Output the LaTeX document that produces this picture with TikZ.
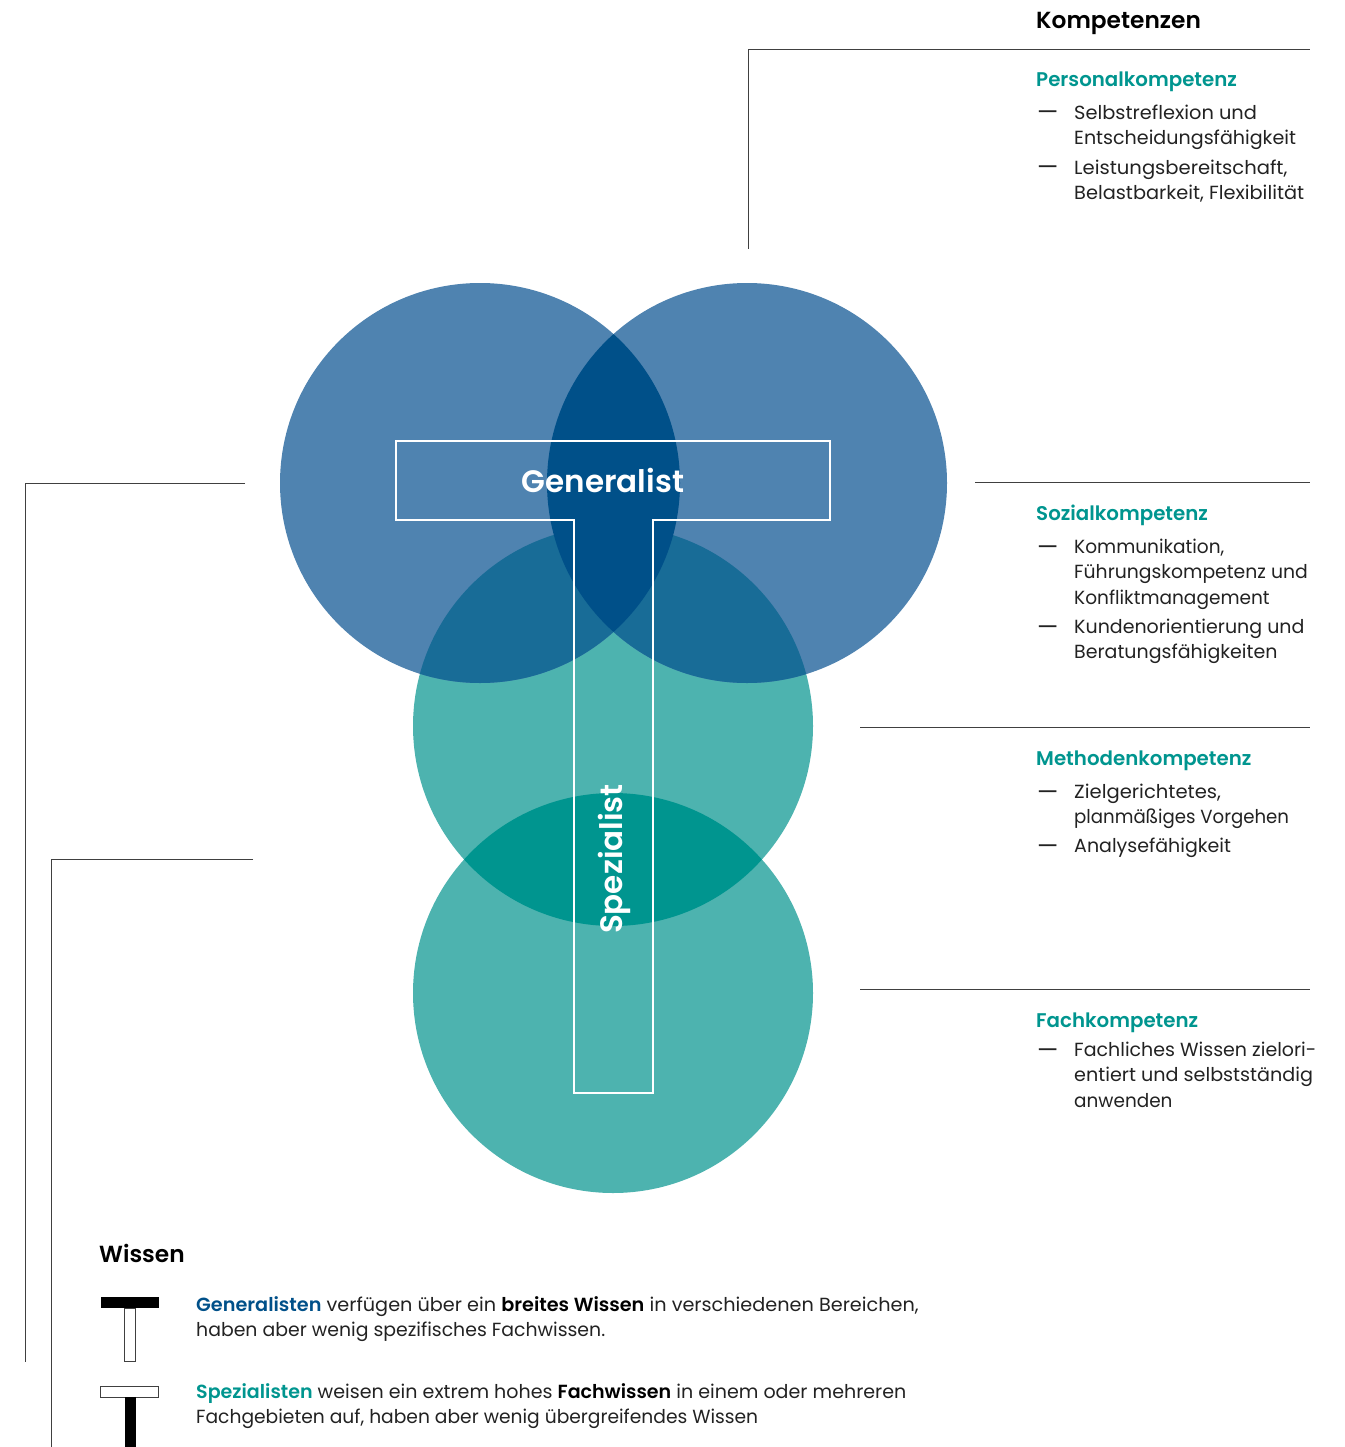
\documentclass[tikz,border=0pt]{standalone}
\usepackage{graphicx}
\usepackage{fontspec}
\setmainfont{Poppins}[BoldFont={Poppins SemiBold}]
\definecolor{blueA}{HTML}{4F83B0}
\definecolor{blueB}{HTML}{005089}
\definecolor{tealA}{HTML}{4DB3AF}
\definecolor{tealB}{HTML}{00958F}
\definecolor{mixC}{HTML}{186C97}
\definecolor{lineC}{HTML}{404040}
\definecolor{textC}{HTML}{222222}
\tikzset{
  rule/.style={draw=lineC,line width=1pt},
  head/.style={anchor=base west,inner sep=0pt,font=\fontsize{23.3}{28}\selectfont\bfseries,text=black},
  sub/.style={anchor=base west,inner sep=0pt,font=\fontsize{19.8}{25}\selectfont\bfseries,text=tealB},
  dashmark/.style={anchor=base west,inner sep=0pt,yshift=-2pt,xshift=-1pt,font=\fontsize{24}{25}\selectfont,text=textC},
  item/.style={anchor=north west,inner sep=0pt,align=left,font=\fontsize{19}{25.5}\selectfont,text=textC},
  tshape/.style={draw=white,line width=2.6pt,miter limit=10},
  tlabel/.style={inner sep=0pt,font=\fontsize{31}{36}\selectfont\bfseries,text=white},
}
\newcommand{\fl}{\rule{0pt}{20pt}}
\newcommand{\sx}[2]{\scalebox{#1}[1]{#2}}
\begin{document}
\begin{tikzpicture}[x=1pt,y=-1pt]
\useasboundingbox (0,0) rectangle (1344,1447);
\coordinate (cl) at (480,483);
\coordinate (cr) at (747,483);
\coordinate (ct) at (613,726);
\coordinate (cb) at (613,993);
% circles
\fill[tealA] (ct) circle[radius=200];
\fill[tealA] (cb) circle[radius=200];
\begin{scope}\clip (ct) circle[radius=200];\fill[tealB] (cb) circle[radius=200];\end{scope}
\fill[blueA] (cl) circle[radius=200];
\fill[blueA] (cr) circle[radius=200];
\begin{scope}\clip (ct) circle[radius=200];\fill[mixC] (cl) circle[radius=200];\fill[mixC] (cr) circle[radius=200];\end{scope}
\begin{scope}\clip (cl) circle[radius=200];\fill[blueB] (cr) circle[radius=200];\end{scope}
% T
\draw[tshape] (396,441) -- (830,441) -- (830,520) -- (653,520) -- (653,1093) -- (574,1093) -- (574,520) -- (396,520) -- cycle;
\node[tlabel,anchor=base] (gen) at (603,492) {Generalist};
\node[tlabel,anchor=base,rotate=90] (spez) at (622,859) {Spezialist};
% rules
\coordinate (a1) at (748,249); \coordinate (a2) at (748,49.5); \coordinate (a3) at (1310,49.5);
\draw[rule] (a1) -- (a2) -- (a3);
\coordinate (b1) at (975,482.5); \coordinate (b2) at (1310,482.5);
\draw[rule] (b1) -- (b2);
\coordinate (c1) at (860,727.5); \coordinate (c2) at (1310,727.5);
\draw[rule] (c1) -- (c2);
\coordinate (d1) at (860,989.5); \coordinate (d2) at (1310,989.5);
\draw[rule] (d1) -- (d2);
\coordinate (e1) at (245,483.5); \coordinate (e2) at (25,483.5); \coordinate (e3) at (25,1362);
\draw[rule] (e1) -- (e2) -- (e3);
\coordinate (f1) at (253,859.5); \coordinate (f2) at (51,859.5); \coordinate (f3) at (51,1447);
\draw[rule] (f1) -- (f2) -- (f3);
% right texts
\node[head] (kompetenzen) at (1036,29) {Kompetenzen};
\node[sub] (pk) at (1036,87) {Personalkompetenz};
\node[dashmark] (pd1) at (1038,119) {—};
\node[item] (pi1) at (1074,99) {\fl\sx{1.02}{Selbstreflexion und}\\\sx{1.005}{Entscheidungsfähigkeit}};
\node[dashmark] (pd2) at (1038,174) {—};
\node[item] (pi2) at (1074,154) {\fl\sx{1.03}{Leistungsbereitschaft,}\\\sx{1.018}{Belastbarkeit, Flexibilität}};
\node[sub] (sk) at (1036,520) {Sozialkompetenz};
\node[dashmark] (sd1) at (1038,553) {—};
\node[item] (si1) at (1074,533) {\fl\sx{.975}{Kommunikation,}\\\sx{.99}{Führungskompetenz und}\\\sx{.975}{Konfliktmanagement}};
\node[dashmark] (sd2) at (1038,633) {—};
\node[item] (si2) at (1074,613) {\fl Kundenorientierung und\\Beratungsfähigkeiten};
\node[sub] (mk) at (1036,765) {Methodenkompetenz};
\node[dashmark] (md1) at (1038,798) {—};
\node[item] (mi1) at (1074,778) {\fl\sx{1.03}{Zielgerichtetes,}\\\sx{.955}{planmäßiges Vorgehen}};
\node[dashmark] (md2) at (1038,852) {—};
\node[item] (mi2) at (1074,832) {\fl Analysefähigkeit};
\node[sub] (fk) at (1036,1027) {Fachkompetenz};
\node[dashmark] (fd1) at (1038,1056) {—};
\node[item] (fi1) at (1074,1036) {\fl Fachliches Wissen zielori-\\\sx{1.008}{entiert und selbstständig}\\\sx{.97}{anwenden}};
% legend
\node[head] (wissen) at (99,1262) {Wissen};
\fill[black] (100.5,1297) rectangle (159,1308);
\draw[draw=lineC,line width=1pt] (124.5,1308) rectangle (135,1361);
\draw[draw=lineC,line width=1pt] (100.5,1386.5) rectangle (158.5,1397);
\fill[black] (124.5,1397) rectangle (135.5,1447);
\node[item] (lg1) at (196,1291) {\fl\sx{1.013}{{\bfseries\color{blueB}Generalisten} verfügen über ein {\bfseries\color{black}breites Wissen} in verschiedenen Bereichen,}\\\sx{.993}{haben aber wenig spezifisches Fachwissen.}};
\node[item] (lg2) at (196,1378) {\fl\sx{1.003}{{\bfseries\color{tealB}Spezialisten} weisen ein extrem hohes {\bfseries\color{black}Fachwissen} in einem oder mehreren}\\\sx{.983}{Fachgebieten auf, haben aber wenig übergreifendes Wissen}};
\end{tikzpicture}
\end{document}
